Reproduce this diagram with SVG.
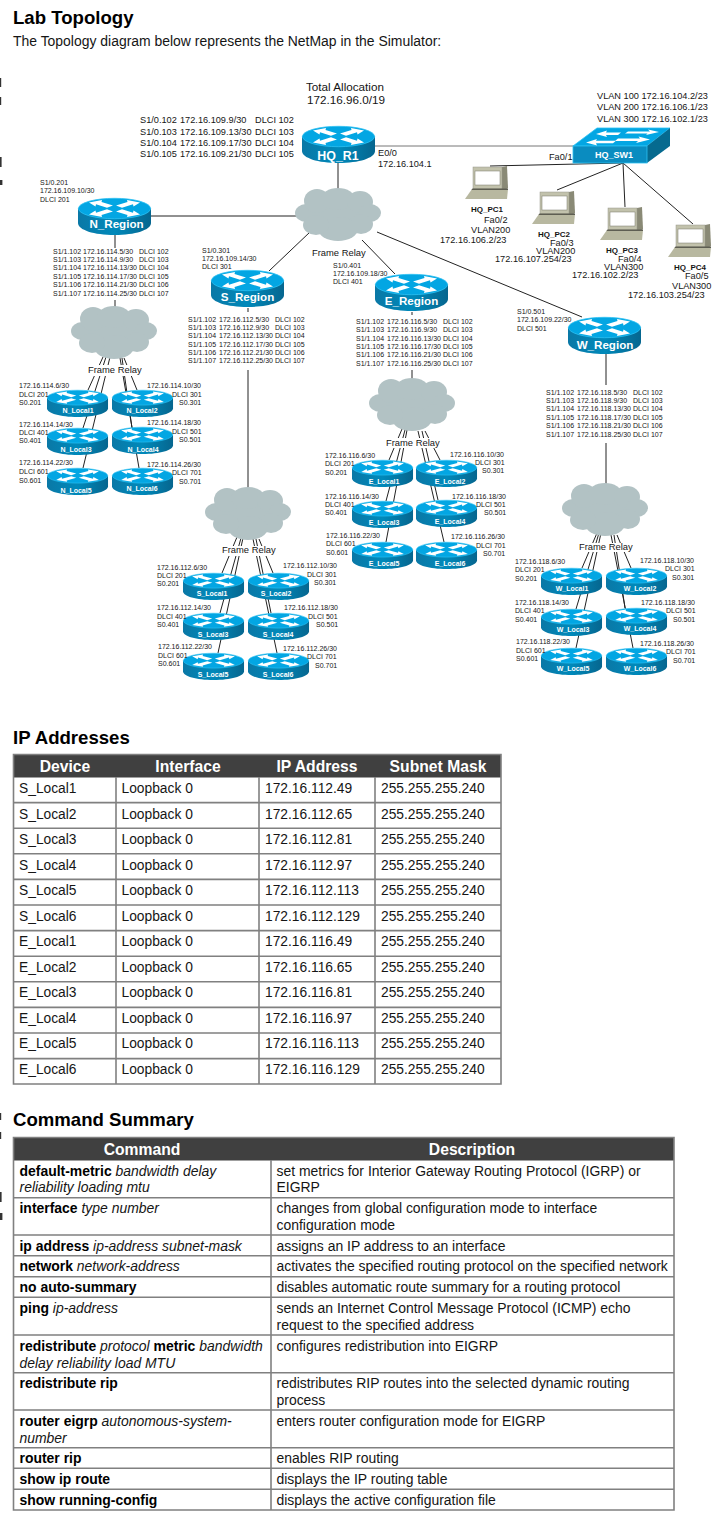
<svg xmlns="http://www.w3.org/2000/svg" xmlns:xlink="http://www.w3.org/1999/xlink" width="722" height="1536" viewBox="0 0 722 1536">
<style>
text{font-family:"Liberation Sans",Arial,sans-serif;fill:#151515}
.h{font-size:18.6px;font-weight:bold;fill:#000}
.s7{font-size:7px}
.s9{font-size:9.2px}
.pc{font-size:8px;font-weight:bold}
.fr{font-size:9.4px}
.rb{font-size:11.6px;font-weight:bold;fill:#fff;text-anchor:middle}
.rl{font-size:7px;font-weight:bold;fill:#fff;text-anchor:middle}
.th{font-size:15.7px;font-weight:bold;fill:#fff;text-anchor:middle}
.td{font-size:13.8px}
.cm{font-size:13.95px}
.b{font-weight:bold;fill:#000}
.i{font-style:italic}
.l{stroke:#222;stroke-width:1;fill:none}
.g{stroke:#777;stroke-width:1;fill:none}
.tb{stroke:#808080;stroke-width:1.6;fill:none}
</style>
<defs>
<linearGradient id="body" x1="0" y1="0" x2="1" y2="0"><stop offset="0" stop-color="#0a78a6"/><stop offset=".5" stop-color="#0089ba"/><stop offset="1" stop-color="#06668f"/></linearGradient>
<path id="arw" d="M11 4.500L24 2L23.500 4L35 7.500L29 9.800L18 6.300L17.500 8.500Z" fill="#fff"/>
<g id="router">
<path d="M0 10.500V25C0 32 16 37 36.500 37S73 32 73 25V10.500Z" fill="url(#body)"/>
<ellipse cx="36.500" cy="10.500" rx="36.100" ry="10.200" fill="#03a6e3" stroke="#2cc0f2" stroke-width=".8"/>
<use href="#arw"/>
<use href="#arw" transform="matrix(-1 0 0 1 73 0)"/>
<use href="#arw" transform="matrix(1 0 0 -1 0 21)"/>
<use href="#arw" transform="matrix(-1 0 0 -1 73 21)"/>
</g>
<g id="cloud" fill="#b2c2c4">
<ellipse cx="43" cy="26" rx="32" ry="20"/>
<ellipse cx="11" cy="25" rx="11" ry="9"/>
<ellipse cx="22" cy="13" rx="13" ry="12"/>
<ellipse cx="43" cy="11" rx="17" ry="11"/>
<ellipse cx="65" cy="14" rx="13" ry="11"/>
<ellipse cx="75" cy="25" rx="11" ry="9"/>
<ellipse cx="66" cy="36" rx="12" ry="10"/>
<ellipse cx="43" cy="41" rx="20" ry="12"/>
<ellipse cx="21" cy="37" rx="13" ry="10"/>
</g>
<g id="laptop">
<path d="M37 1L42 0L43 22L37 26Z" fill="#8a8a76"/>
<rect x="8" y="1" width="29" height="22" fill="#c2c2ac" stroke="#96968a" stroke-width=".5"/>
<rect x="10" y="5" width="25" height="14" fill="#fff" stroke="#77776a" stroke-width=".5"/>
<path d="M7 23H43L42 33H0Z" fill="#b8b8a0"/>
<path d="M7.500 22.500H43V24H6.500Z" fill="#5e5e52"/>
</g>
</defs>

<g id="edge-marks" fill="#333">
<rect x="0" y="78" width="1.2" height="9"/><rect x="0" y="97" width="1.2" height="8"/><rect x="0" y="157" width="1.6" height="10"/><rect x="0" y="180" width="2.400" height="5"/>
<rect x="0" y="1113" width="1.2" height="7"/><rect x="0" y="1132" width="1.2" height="7"/><rect x="0" y="1192" width="1.6" height="10"/><rect x="0" y="1213" width="2.400" height="7"/>
</g>

<text class="h" x="13" y="24">Lab Topology</text>
<text x="13" y="46" font-size="13.95">The Topology diagram below represents the NetMap in the Simulator:</text>

<g id="connectors">
<path class="l" d="M338 163V190M151 216H296M269 271L310 232M395 274L362 240M377 232L582 317"/>
<path class="g" d="M375 146H574"/>
<path class="l" d="M490 166L623 163M557 190L623 163M625 207L623 163M693 224L623 163"/>
<path class="l" d="M115 234V248M115 300V307M248 308V312M248 370V488M412 312V315M412 370V379M606 353V385M606 443V484"/>
<path class="l" d="M103 357L88 390M106 357L83 428M110 357L83 468M124 358L137 390M122 358L132 428M120 358L139 468"/>
<path class="l" d="M237 537L222 573M241 538L220 613M243 538L218 653M259 539L273 573M256 539L271 613M253 539L277 653"/>
<path class="l" d="M402 429L389 460M405 430L386 501M407 430L386 542M425 431L440 460M422 431L438 500M418 431L444 542"/>
<path class="l" d="M597 533L582 568M599 533L576 609M601 533L576 648M617 535L631 568M614 535L625 608M611 535L633 648"/>
<g fill="#fff"><rect x="87" y="365" width="56" height="11"/><rect x="221" y="546" width="55" height="10"/><rect x="385" y="438" width="55" height="10"/><rect x="578" y="543" width="55" height="9"/></g>
</g>

<g id="allocation">
<text x="306" y="91" font-size="11.7">Total Allocation</text>
<text x="307" y="104" font-size="11.7">172.16.96.0/19</text>
</g>

<g id="HQ_R1">
<use href="#router" x="302" y="126"/>
<text class="rb" x="338" y="160" style="font-size:12.4px">HQ_R1</text>
<g class="s9">
<text y="123"><tspan x="140">S1/0.102</tspan><tspan x="180">172.16.109.9/30</tspan><tspan x="255">DLCI 102</tspan></text>
<text y="134.500"><tspan x="140">S1/0.103</tspan><tspan x="180">172.16.109.13/30</tspan><tspan x="255">DLCI 103</tspan></text>
<text y="146"><tspan x="140">S1/0.104</tspan><tspan x="180">172.16.109.17/30</tspan><tspan x="255">DLCI 104</tspan></text>
<text y="157"><tspan x="140">S1/0.105</tspan><tspan x="180">172.16.109.21/30</tspan><tspan x="255">DLCI 105</tspan></text>
<text x="378" y="156">E0/0</text><text x="378" y="167">172.16.104.1</text>
</g>
</g>

<g id="HQ_SW1">
<path d="M573 146L597 128H670L647 146Z" fill="#03a6e3" stroke="#2cc0f2" stroke-width=".8"/>
<path d="M647 146L670 128V146L647 163Z" fill="#066a8f"/>
<rect x="573" y="146" width="74" height="17" fill="#0a8cc0" stroke="#2cc0f2" stroke-width=".8"/>
<path d="M628 131.500H650L648 129.500L659 132L646 135L647.500 133.500H625ZM596 134L607 130.500L606 132.500H621L618 135H606L607 137ZM586 142.500L597 139L596 140.800H616L613 143.200H596L597 145.500ZM618 138.500H640L638.500 136.500L650 139.500L636 143L638 141H615Z" fill="#fff"/>
<text x="614" y="158" font-size="9" font-weight="bold" style="fill:#fff" text-anchor="middle">HQ_SW1</text>
<g class="s9">
<text x="597" y="99">VLAN 100 172.16.104.2/23</text>
<text x="597" y="110">VLAN 200 172.16.106.1/23</text>
<text x="597" y="122">VLAN 300 172.16.102.1/23</text>
<text x="549" y="160">Fa0/1</text>
</g>
</g>

<g id="HQ_PC1"><use href="#laptop" x="465" y="166"/><text class="pc" x="471" y="212">HQ_PC1</text><g class="s9"><text x="484" y="223">Fa0/2</text><text x="471" y="233">VLAN200</text><text x="440" y="242.500">172.16.106.2/23</text></g></g>
<g id="HQ_PC2"><use href="#laptop" x="532" y="191"/><text class="pc" x="538" y="237">HQ_PC2</text><g class="s9"><text x="550" y="246">Fa0/3</text><text x="536" y="254">VLAN200</text><text x="495" y="262">172.16.107.254/23</text></g></g>
<g id="HQ_PC3"><use href="#laptop" x="600" y="207"/><text class="pc" x="606" y="253">HQ_PC3</text><g class="s9"><text x="618" y="261.500">Fa0/4</text><text x="604" y="270">VLAN300</text><text x="572" y="278">172.16.102.2/23</text></g></g>
<g id="HQ_PC4"><use href="#laptop" x="668" y="224"/><text class="pc" x="674" y="270">HQ_PC4</text><g class="s9"><text x="685" y="279">Fa0/5</text><text x="672" y="289">VLAN300</text><text x="628" y="298">172.16.103.254/23</text></g></g>

<g id="cloud-top"><use href="#cloud" x="295" y="188"/><text class="fr" x="312" y="256">Frame Relay</text></g>

<g id="N_Region">
<use href="#router" x="78" y="198"/><text class="rb" x="116.500" y="228">N_Region</text>
<g class="s7">
<text x="40" y="185">S1/0.201</text><text x="40" y="193">172.16.109.10/30</text><text x="40" y="202">DLCI 201</text>
<text y="253.500"><tspan x="53">S1/1.102</tspan><tspan x="83">172.16.114.5/30</tspan><tspan x="139">DLCI 102</tspan></text>
<text y="262"><tspan x="53">S1/1.103</tspan><tspan x="83">172.16.114.9/30</tspan><tspan x="139">DLCI 103</tspan></text>
<text y="270"><tspan x="53">S1/1.104</tspan><tspan x="83">172.16.114.13/30</tspan><tspan x="139">DLCI 104</tspan></text>
<text y="279"><tspan x="53">S1/1.105</tspan><tspan x="83">172.16.114.17/30</tspan><tspan x="139">DLCI 105</tspan></text>
<text y="287"><tspan x="53">S1/1.106</tspan><tspan x="83">172.16.114.21/30</tspan><tspan x="139">DLCI 106</tspan></text>
<text y="296"><tspan x="53">S1/1.107</tspan><tspan x="83">172.16.114.25/30</tspan><tspan x="139">DLCI 107</tspan></text>
</g>
</g>
<g id="cloud-N"><use href="#cloud" x="71" y="306"/><text class="fr" x="88" y="373">Frame Relay</text></g>
<g id="N_Local1"><use href="#router" transform="translate(47 390) scale(.836 .73)"/><text class="rl" x="78" y="413">N_Local1</text><g class="s7"><text x="19" y="388">172.16.114.6/30</text><text x="19" y="397">DLCI 201</text><text x="19" y="405">S0.201</text></g></g>
<g id="N_Local2"><use href="#router" transform="translate(112 390) scale(.836 .73)"/><text class="rl" x="142" y="413">N_Local2</text><g class="s7"><text x="147" y="388">172.16.114.10/30</text><text x="172" y="397">DLCI 301</text><text x="179" y="405">S0.301</text></g></g>
<g id="N_Local3"><use href="#router" transform="translate(47 428) scale(.836 .73)"/><text class="rl" x="76" y="452">N_Local3</text><g class="s7"><text x="19" y="427">172.16.114.14/30</text><text x="19" y="435">DLCI 401</text><text x="19" y="443">S0.401</text></g></g>
<g id="N_Local4"><use href="#router" transform="translate(112 427) scale(.836 .73)"/><text class="rl" x="143" y="452">N_Local4</text><g class="s7"><text x="147" y="425">172.16.114.18/30</text><text x="172" y="434">DLCI 501</text><text x="179" y="442">S0.501</text></g></g>
<g id="N_Local5"><use href="#router" transform="translate(47 468) scale(.836 .73)"/><text class="rl" x="76" y="493">N_Local5</text><g class="s7"><text x="19" y="465">172.16.114.22/30</text><text x="19" y="474">DLCI 601</text><text x="19" y="483">S0.601</text></g></g>
<g id="N_Local6"><use href="#router" transform="translate(112 468) scale(.836 .73)"/><text class="rl" x="142" y="491">N_Local6</text><g class="s7"><text x="147" y="467">172.16.114.26/30</text><text x="172" y="475">DLCI 701</text><text x="179" y="484">S0.701</text></g></g>

<g id="S_Region">
<use href="#router" x="211" y="270"/><text class="rb" x="247.500" y="301">S_Region</text>
<g class="s7">
<text x="202" y="252.500">S1/0.301</text><text x="202" y="261">172.16.109.14/30</text><text x="202" y="269">DLCI 301</text>
<text y="322"><tspan x="188">S1/1.102</tspan><tspan x="219">172.16.112.5/30</tspan><tspan x="275">DLCI 102</tspan></text>
<text y="330"><tspan x="188">S1/1.103</tspan><tspan x="219">172.16.112.9/30</tspan><tspan x="275">DLCI 103</tspan></text>
<text y="338"><tspan x="188">S1/1.104</tspan><tspan x="219">172.16.112.13/30</tspan><tspan x="275">DLCI 104</tspan></text>
<text y="347"><tspan x="188">S1/1.105</tspan><tspan x="219">172.16.112.17/30</tspan><tspan x="275">DLCI 105</tspan></text>
<text y="355"><tspan x="188">S1/1.106</tspan><tspan x="219">172.16.112.21/30</tspan><tspan x="275">DLCI 106</tspan></text>
<text y="363"><tspan x="188">S1/1.107</tspan><tspan x="219">172.16.112.25/30</tspan><tspan x="275">DLCI 107</tspan></text>
</g>
</g>
<g id="cloud-S"><use href="#cloud" x="205" y="487"/><text class="fr" x="222" y="553">Frame Relay</text></g>
<g id="S_Local1"><use href="#router" transform="translate(183 573) scale(.836 .73)"/><text class="rl" x="212" y="596">S_Local1</text><g class="s7"><text x="157" y="570">172.16.112.6/30</text><text x="157" y="578">DLCI 201</text><text x="157" y="586">S0.201</text></g></g>
<g id="S_Local2"><use href="#router" transform="translate(248 573) scale(.836 .73)"/><text class="rl" x="276" y="596">S_Local2</text><g class="s7"><text x="283" y="568">172.16.112.10/30</text><text x="307" y="577">DLCI 301</text><text x="314" y="585">S0.301</text></g></g>
<g id="S_Local3"><use href="#router" transform="translate(183 613) scale(.836 .73)"/><text class="rl" x="213" y="637">S_Local3</text><g class="s7"><text x="157" y="610">172.16.112.14/30</text><text x="157" y="619">DLCI 401</text><text x="157" y="627">S0.401</text></g></g>
<g id="S_Local4"><use href="#router" transform="translate(248 613) scale(.836 .73)"/><text class="rl" x="278" y="637">S_Local4</text><g class="s7"><text x="284" y="610">172.16.112.18/30</text><text x="308" y="619">DLCI 501</text><text x="316" y="627">S0.501</text></g></g>
<g id="S_Local5"><use href="#router" transform="translate(183 653) scale(.836 .73)"/><text class="rl" x="213" y="677">S_Local5</text><g class="s7"><text x="158" y="649">172.16.112.22/30</text><text x="158" y="658">DLCI 601</text><text x="158" y="666">S0.601</text></g></g>
<g id="S_Local6"><use href="#router" transform="translate(248 653) scale(.836 .73)"/><text class="rl" x="278" y="677">S_Local6</text><g class="s7"><text x="283" y="651">172.16.112.26/30</text><text x="307" y="659">DLCI 701</text><text x="315" y="668">S0.701</text></g></g>

<g id="E_Region">
<use href="#router" x="375" y="274"/><text class="rb" x="411.500" y="305">E_Region</text>
<g class="s7">
<text x="333" y="268">S1/0.401</text><text x="333" y="276">172.16.109.18/30</text><text x="333" y="284">DLCI 401</text>
<text y="324"><tspan x="356">S1/1.102</tspan><tspan x="387">172.16.116.5/30</tspan><tspan x="443">DLCI 102</tspan></text>
<text y="332"><tspan x="356">S1/1.103</tspan><tspan x="387">172.16.116.9/30</tspan><tspan x="443">DLCI 103</tspan></text>
<text y="341"><tspan x="356">S1/1.104</tspan><tspan x="387">172.16.116.13/30</tspan><tspan x="443">DLCI 104</tspan></text>
<text y="349"><tspan x="356">S1/1.105</tspan><tspan x="387">172.16.116.17/30</tspan><tspan x="443">DLCI 105</tspan></text>
<text y="357"><tspan x="356">S1/1.106</tspan><tspan x="387">172.16.116.21/30</tspan><tspan x="443">DLCI 106</tspan></text>
<text y="366"><tspan x="356">S1/1.107</tspan><tspan x="387">172.16.116.25/30</tspan><tspan x="443">DLCI 107</tspan></text>
</g>
</g>
<g id="cloud-E"><use href="#cloud" x="369" y="378"/><text class="fr" x="386" y="446">Frame Relay</text></g>
<g id="E_Local1"><use href="#router" transform="translate(352 460) scale(.836 .73)"/><text class="rl" x="384" y="484">E_Local1</text><g class="s7"><text x="325" y="458">172.16.116.6/30</text><text x="325" y="466">DLCI 201</text><text x="325" y="475">S0.201</text></g></g>
<g id="E_Local2"><use href="#router" transform="translate(416 460) scale(.836 .73)"/><text class="rl" x="450" y="484">E_Local2</text><g class="s7"><text x="450" y="457">172.16.116.10/30</text><text x="475" y="465">DLCI 301</text><text x="482" y="473">S0.301</text></g></g>
<g id="E_Local3"><use href="#router" transform="translate(352 501) scale(.836 .73)"/><text class="rl" x="384" y="525">E_Local3</text><g class="s7"><text x="325" y="499">172.16.116.14/30</text><text x="325" y="507">DLCI 401</text><text x="325" y="515">S0.401</text></g></g>
<g id="E_Local4"><use href="#router" transform="translate(416 500) scale(.836 .73)"/><text class="rl" x="450" y="524">E_Local4</text><g class="s7"><text x="452" y="499">172.16.116.18/30</text><text x="476" y="507">DLCI 501</text><text x="484" y="515">S0.501</text></g></g>
<g id="E_Local5"><use href="#router" transform="translate(352 542) scale(.836 .73)"/><text class="rl" x="384" y="566">E_Local5</text><g class="s7"><text x="326" y="538">172.16.116.22/30</text><text x="326" y="546">DLCI 601</text><text x="326" y="555">S0.601</text></g></g>
<g id="E_Local6"><use href="#router" transform="translate(416 542) scale(.836 .73)"/><text class="rl" x="450" y="566">E_Local6</text><g class="s7"><text x="451" y="539">172.16.116.26/30</text><text x="476" y="548">DLCI 701</text><text x="483" y="556">S0.701</text></g></g>

<g id="W_Region">
<use href="#router" x="568" y="317"/><text class="rb" x="605" y="349">W_Region</text>
<g class="s7">
<text x="517" y="314">S1/0.501</text><text x="517" y="322">172.16.109.22/30</text><text x="517" y="330.500">DLCI 501</text>
<text y="395"><tspan x="546">S1/1.102</tspan><tspan x="577">172.16.118.5/30</tspan><tspan x="633">DLCI 102</tspan></text>
<text y="403"><tspan x="546">S1/1.103</tspan><tspan x="577">172.16.118.9/30</tspan><tspan x="633">DLCI 103</tspan></text>
<text y="411"><tspan x="546">S1/1.104</tspan><tspan x="577">172.16.118.13/30</tspan><tspan x="633">DLCI 104</tspan></text>
<text y="420"><tspan x="546">S1/1.105</tspan><tspan x="577">172.16.118.17/30</tspan><tspan x="633">DLCI 105</tspan></text>
<text y="428"><tspan x="546">S1/1.106</tspan><tspan x="577">172.16.118.21/30</tspan><tspan x="633">DLCI 106</tspan></text>
<text y="437"><tspan x="546">S1/1.107</tspan><tspan x="577">172.16.118.25/30</tspan><tspan x="633">DLCI 107</tspan></text>
</g>
</g>
<g id="cloud-W"><use href="#cloud" x="562" y="483"/><text class="fr" x="579" y="550">Frame Relay</text></g>
<g id="W_Local1"><use href="#router" transform="translate(541 568) scale(.836 .73)"/><text class="rl" x="572" y="591">W_Local1</text><g class="s7"><text x="515" y="564">172.16.118.6/30</text><text x="515" y="572">DLCI 201</text><text x="515" y="581">S0.201</text></g></g>
<g id="W_Local2"><use href="#router" transform="translate(606 568) scale(.836 .73)"/><text class="rl" x="640" y="591">W_Local2</text><g class="s7"><text x="640" y="563">172.16.118.10/30</text><text x="665" y="571">DLCI 301</text><text x="672" y="580">S0.301</text></g></g>
<g id="W_Local3"><use href="#router" transform="translate(541 609) scale(.836 .73)"/><text class="rl" x="573" y="632">W_Local3</text><g class="s7"><text x="515" y="605">172.16.118.14/30</text><text x="515" y="613">DLCI 401</text><text x="515" y="622">S0.401</text></g></g>
<g id="W_Local4"><use href="#router" transform="translate(606 608) scale(.836 .73)"/><text class="rl" x="640" y="631">W_Local4</text><g class="s7"><text x="641" y="605">172.16.118.18/30</text><text x="666" y="613">DLCI 501</text><text x="673" y="622">S0.501</text></g></g>
<g id="W_Local5"><use href="#router" transform="translate(541 648) scale(.836 .73)"/><text class="rl" x="573" y="671">W_Local5</text><g class="s7"><text x="516" y="644">172.16.118.22/30</text><text x="516" y="653">DLCI 601</text><text x="516" y="661">S0.601</text></g></g>
<g id="W_Local6"><use href="#router" transform="translate(606 648) scale(.836 .73)"/><text class="rl" x="640" y="671">W_Local6</text><g class="s7"><text x="640" y="646">172.16.118.26/30</text><text x="666" y="654">DLCI 701</text><text x="673" y="663">S0.701</text></g></g>

<g id="ip-table">
<text class="h" x="13" y="743.500">IP Addresses</text>
<rect x="13.500" y="754.500" width="487.500" height="23" fill="#404040"/>
<path class="tb" d="M13.500 754.500H501V1084H13.500ZM116 777V1084M259 777V1084M375 777V1084M13.500 802.600H501M13.500 828.200H501M13.500 853.800H501M13.500 879.400H501M13.500 905H501M13.500 930.600H501M13.500 956.200H501M13.500 981.800H501M13.500 1007.400H501M13.500 1033H501M13.500 1058.600H501"/>
<text class="th" x="65" y="771.500">Device</text><text class="th" x="188" y="771.500">Interface</text><text class="th" x="317" y="771.500">IP Address</text><text class="th" x="438" y="771.500">Subnet Mask</text>
<g class="td">
<text y="793.300"><tspan x="19">S_Local1</tspan><tspan x="121.500">Loopback 0</tspan><tspan x="265">172.16.112.49</tspan><tspan x="381">255.255.255.240</tspan></text>
<text y="818.800"><tspan x="19">S_Local2</tspan><tspan x="121.500">Loopback 0</tspan><tspan x="265">172.16.112.65</tspan><tspan x="381">255.255.255.240</tspan></text>
<text y="844.300"><tspan x="19">S_Local3</tspan><tspan x="121.500">Loopback 0</tspan><tspan x="265">172.16.112.81</tspan><tspan x="381">255.255.255.240</tspan></text>
<text y="869.800"><tspan x="19">S_Local4</tspan><tspan x="121.500">Loopback 0</tspan><tspan x="265">172.16.112.97</tspan><tspan x="381">255.255.255.240</tspan></text>
<text y="895.300"><tspan x="19">S_Local5</tspan><tspan x="121.500">Loopback 0</tspan><tspan x="265">172.16.112.113</tspan><tspan x="381">255.255.255.240</tspan></text>
<text y="920.800"><tspan x="19">S_Local6</tspan><tspan x="121.500">Loopback 0</tspan><tspan x="265">172.16.112.129</tspan><tspan x="381">255.255.255.240</tspan></text>
<text y="946.300"><tspan x="19">E_Local1</tspan><tspan x="121.500">Loopback 0</tspan><tspan x="265">172.16.116.49</tspan><tspan x="381">255.255.255.240</tspan></text>
<text y="971.800"><tspan x="19">E_Local2</tspan><tspan x="121.500">Loopback 0</tspan><tspan x="265">172.16.116.65</tspan><tspan x="381">255.255.255.240</tspan></text>
<text y="997.300"><tspan x="19">E_Local3</tspan><tspan x="121.500">Loopback 0</tspan><tspan x="265">172.16.116.81</tspan><tspan x="381">255.255.255.240</tspan></text>
<text y="1022.800"><tspan x="19">E_Local4</tspan><tspan x="121.500">Loopback 0</tspan><tspan x="265">172.16.116.97</tspan><tspan x="381">255.255.255.240</tspan></text>
<text y="1048.300"><tspan x="19">E_Local5</tspan><tspan x="121.500">Loopback 0</tspan><tspan x="265">172.16.116.113</tspan><tspan x="381">255.255.255.240</tspan></text>
<text y="1073.800"><tspan x="19">E_Local6</tspan><tspan x="121.500">Loopback 0</tspan><tspan x="265">172.16.116.129</tspan><tspan x="381">255.255.255.240</tspan></text>
</g>
</g>

<g id="command-table">
<text class="h" x="13" y="1126">Command Summary</text>
<rect x="13.500" y="1137.500" width="660.500" height="23" fill="#404040"/>
<path class="tb" d="M13.500 1137.500H674V1510H13.500ZM271 1160V1510M13.500 1197.700H674M13.500 1235H674M13.500 1255.700H674M13.500 1276.700H674M13.500 1297.300H674M13.500 1335H674M13.500 1372.700H674M13.500 1410H674M13.500 1447.700H674M13.500 1468.300H674M13.500 1489.300H674"/>
<text class="th" x="142" y="1154.500">Command</text><text class="th" x="472" y="1154.500">Description</text>
<g class="cm">
<text x="19.500" y="1176"><tspan class="b">default-metric</tspan> <tspan class="i">bandwidth delay</tspan></text>
<text x="19.500" y="1192" class="i">reliability loading mtu</text>
<text x="19.500" y="1213"><tspan class="b">interface</tspan> <tspan class="i">type number</tspan></text>
<text x="19.500" y="1251"><tspan class="b">ip address</tspan> <tspan class="i">ip-address subnet-mask</tspan></text>
<text x="19.500" y="1271"><tspan class="b">network</tspan> <tspan class="i">network-address</tspan></text>
<text x="19.500" y="1292" class="b">no auto-summary</text>
<text x="19.500" y="1313"><tspan class="b">ping</tspan> <tspan class="i">ip-address</tspan></text>
<text x="19.500" y="1351"><tspan class="b">redistribute</tspan> <tspan class="i">protocol</tspan> <tspan class="b">metric</tspan> <tspan class="i">bandwidth</tspan></text>
<text x="19.500" y="1368" class="i">delay reliability load MTU</text>
<text x="19.500" y="1388" class="b">redistribute rip</text>
<text x="19.500" y="1426"><tspan class="b">router eigrp</tspan> <tspan class="i">autonomous-system-</tspan></text>
<text x="19.500" y="1443" class="i">number</text>
<text x="19.500" y="1463" class="b">router rip</text>
<text x="19.500" y="1484" class="b">show ip route</text>
<text x="19.500" y="1505" class="b">show running-config</text>
<text x="276.500" y="1176">set metrics for Interior Gateway Routing Protocol (IGRP) or</text>
<text x="276.500" y="1192">EIGRP</text>
<text x="276.500" y="1213">changes from global configuration mode to interface</text>
<text x="276.500" y="1230">configuration mode</text>
<text x="276.500" y="1251">assigns an IP address to an interface</text>
<text x="276.500" y="1271">activates the specified routing protocol on the specified network</text>
<text x="276.500" y="1292">disables automatic route summary for a routing protocol</text>
<text x="276.500" y="1313">sends an Internet Control Message Protocol (ICMP) echo</text>
<text x="276.500" y="1330">request to the specified address</text>
<text x="276.500" y="1351">configures redistribution into EIGRP</text>
<text x="276.500" y="1388">redistributes RIP routes into the selected dynamic routing</text>
<text x="276.500" y="1405">process</text>
<text x="276.500" y="1426">enters router configuration mode for EIGRP</text>
<text x="276.500" y="1463">enables RIP routing</text>
<text x="276.500" y="1484">displays the IP routing table</text>
<text x="276.500" y="1505">displays the active configuration file</text>
</g>
</g>
</svg>
